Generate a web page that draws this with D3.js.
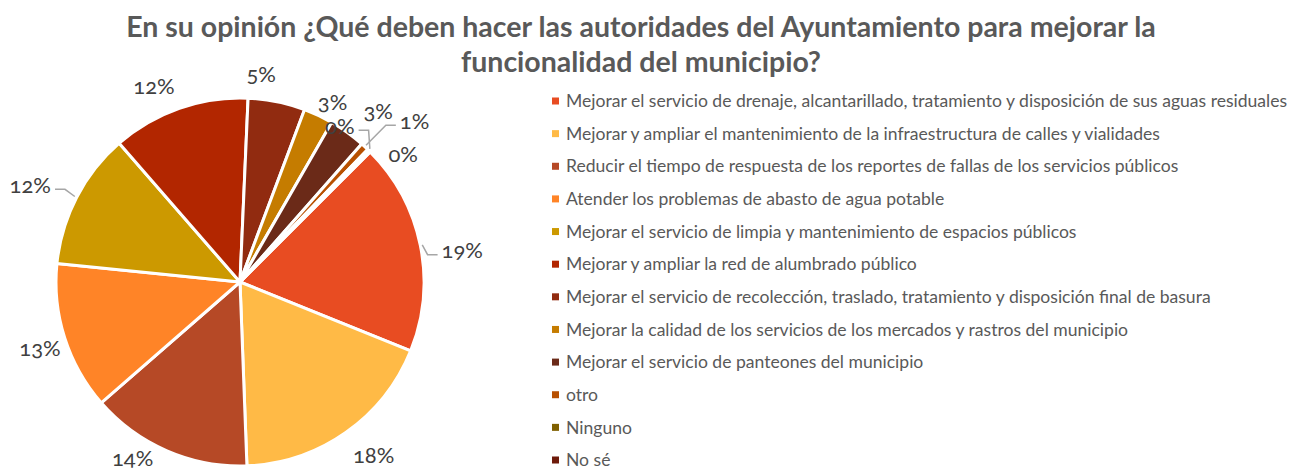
<!DOCTYPE html>
<head>
  <meta charset="utf-8">
  <script src="https://cdn.jsdelivr.net/npm/d3@7"></script>
  <style>
    body { margin: 0; background: white; }
    text { font-family: Lato, "Open Sans", sans-serif; font-variant-numeric: oldstyle-nums; }
    .title { font-weight: bold; fill: #595959; }
    .legend text { fill: #595959; }
    .lbl { fill: #404040; font-size: 22px; }
    .leader { fill: none; stroke: #a6a6a6; stroke-width: 1.5; }
  </style>
</head>

<body>
  <script>
const W = 1292;
const H = 471;

// answer categories, in the order Excel draws them
const categories = [
  "Mejorar el servicio de drenaje, alcantarillado, tratamiento y disposición de sus aguas residuales",
  "Mejorar y ampliar el mantenimiento de la infraestructura de calles y vialidades",
  "Reducir el tiempo de respuesta de los reportes de fallas de los servicios públicos",
  "Atender los problemas de abasto de agua potable",
  "Mejorar el servicio de limpia y mantenimiento de espacios públicos",
  "Mejorar y ampliar la red de alumbrado público",
  "Mejorar el servicio de recolección, traslado, tratamiento y disposición final de basura",
  "Mejorar la calidad de los servicios de los mercados y rastros del municipio",
  "Mejorar el servicio de panteones del municipio",
  "otro",
  "Ninguno",
  "No sé"
];
// share of answers (%)
const values = [18.6, 18.3, 14.2, 13.0, 12.0, 12.1, 5.0, 2.6, 3.2, 0.7, 0.2, 0.1];
const colors = ["#e84c22", "#ffba46", "#b64926", "#ff8427", "#cc9900", "#b22600",
                "#912b10", "#c57c00", "#6b2a18", "#b85000", "#7f6000", "#6e1a0a"];

const titleLines = [
  "En su opinión ¿Qué deben hacer las autoridades del Ayuntamiento para mejorar la",
  "funcionalidad del municipio?"
];

// label placement tweaks: angle shift (deg), distance (x radius), leader line
const lblShift = [3.5, -2.5, 8, -0.7, -2.6, -4.5, -5.7, 2, 3.3, 4.7, -11.6, 7.2];
const lblDist  = [1.22, 1.19, 1.12, 1.145, 1.255, 1.16, 1.135, 1.10, 1.195, 1.29, 1.005, 1.125];
const lblLeader = [true, false, false, false, true, false, false, false, false, true, true, false];

const cx = 240, cy = 282, R = 184;

var svg = d3.select("body").append("svg")
  .attr("width", W)
  .attr("height", H);

// set a font size so that a text gets the given width
function fitSize(sel, size, width) {
  sel.style("font-size", size + "px");
  let w = sel.node().getComputedTextLength();
  sel.style("font-size", (size * width / w) + "px");
}

//title
var title = svg.append("text")
  .attr("class", "title")
  .attr("text-anchor", "middle");
title.selectAll("tspan")
  .data(titleLines)
  .join("tspan")
  .attr("x", 641)
  .attr("y", (d, i) => 37 + i * 35)
  .text(d => d);
fitSize(title.select("tspan"), 26, 1030);
title.style("font-size", title.select("tspan").style("font-size"));
title.selectAll("tspan").style("font-size", null);

var data = categories.map((c, i) => ({ name: c, value: values[i], color: colors[i], i: i }));

var rad = Math.PI / 180;
var pie = d3.pie()
  .sort(null)
  .value(d => d.value)
  .startAngle(45 * rad)
  .endAngle(405 * rad);

var arc = d3.arc().innerRadius(0).outerRadius(R);

var g = svg.append("g").attr("transform", "translate(" + cx + "," + cy + ")");
var arcs = pie(data);

g.selectAll("path.slice")
  .data(arcs)
  .join("path")
  .attr("class", "slice")
  .attr("d", arc)
  .attr("fill", d => d.data.color)
  .attr("stroke", "white")
  .attr("stroke-width", 3)
  .attr("stroke-linejoin", "round");

function polar(a, r) {
  return [Math.sin(a) * r, -Math.cos(a) * r];
}

//labels
arcs.forEach(d => {
  let i = d.data.i;
  let mid = (d.startAngle + d.endAngle) / 2;
  let p = polar(mid + lblShift[i] * rad, R * lblDist[i]);
  let t = g.append("text")
    .attr("class", "lbl")
    .attr("x", p[0])
    .attr("y", p[1])
    .attr("text-anchor", "middle")
    .attr("dy", "0.35em")
    .text(Math.round(d.data.value) + "%");

  if (lblLeader[i]) {
    let w = t.node().getComputedTextLength();
    let s = polar(mid, R + 2);
    let right = p[0] > s[0];
    let ex = right ? p[0] - w / 2 - 4 : p[0] + w / 2 + 4;
    let ey = p[1] + 4;
    let pts;
    if (Math.abs(ey - s[1]) < 25 || i == 9) {
      pts = [s, [ex + (right ? -10 : 10), ey], [ex, ey]];
    } else {
      pts = [s, [ex, p[1] + 6]];
    }
    g.append("path")
      .attr("class", "leader")
      .attr("d", d3.line()(pts));
  }
});

//legend
var ly = d3.scalePoint()
  .domain(categories)
  .range([101, 460]);

var legend = svg.append("g").attr("class", "legend");
var leg = legend.selectAll("g")
  .data(data)
  .join("g")
  .attr("transform", d => "translate(552," + ly(d.name) + ")");

leg.append("rect")
  .attr("x", 0)
  .attr("y", -3.5)
  .attr("width", 7)
  .attr("height", 7)
  .attr("fill", d => d.color);

leg.append("text")
  .attr("x", 14)
  .attr("dy", "0.35em")
  .text(d => d.name);

fitSize(leg.select("text"), 16, 722);
legend.style("font-size", leg.select("text").style("font-size"));
leg.selectAll("text").style("font-size", null);
  </script>
</body>
